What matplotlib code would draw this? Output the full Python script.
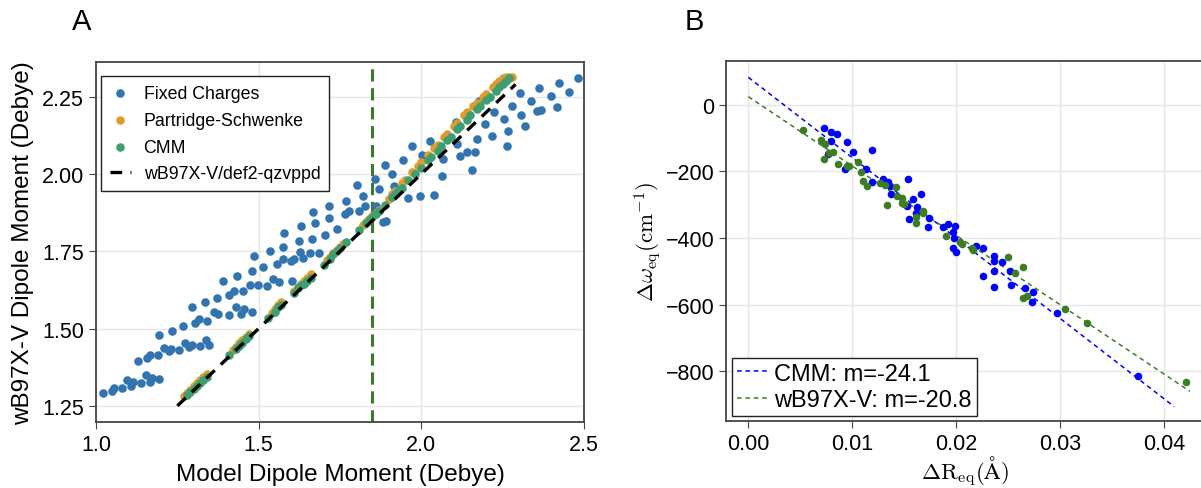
import numpy as np
import matplotlib.pyplot as plt

plt.rcParams['font.family'] = ['Liberation Sans', 'DejaVu Sans']
plt.rcParams['mathtext.fontset'] = 'cm'

# ---- panel A data ----
fixed_x = [1.022, 1.049, 1.055, 1.080, 1.095, 1.108, 1.114, 1.138, 1.153, 1.166, 1.172, 1.194,
           1.129, 1.157, 1.166, 1.191, 1.194, 1.209, 1.224, 1.231, 1.234, 1.255, 1.267, 1.274,
           1.286, 1.295, 1.295, 1.304, 1.320, 1.335, 1.338, 1.347, 1.317, 1.341, 1.363, 1.372,
           1.375, 1.390, 1.409, 1.409, 1.424, 1.433, 1.430, 1.452, 1.455, 1.446, 1.480, 1.473,
           1.480, 1.486, 1.498, 1.513, 1.526, 1.535, 1.544, 1.556, 1.563, 1.575, 1.578, 1.575,
           1.599, 1.603, 1.609, 1.624, 1.630, 1.627, 1.636, 1.658, 1.664, 1.667, 1.673, 1.686,
           1.704, 1.716, 1.716, 1.741, 1.765, 1.769, 1.778, 1.808, 1.827, 1.861, 1.882, 1.891,
           1.888, 1.858, 1.802, 1.821, 1.870,
           2.482, 2.423, 2.454, 2.399, 2.362, 2.417, 2.368, 2.337, 2.303, 2.356, 2.319, 2.306,
           2.279, 2.267, 2.254, 2.263, 2.224, 2.217, 2.196, 2.177, 2.171, 2.165, 2.156, 2.140,
           2.119, 2.110, 2.107, 2.064, 2.067, 2.039, 2.027, 1.996, 2.002, 1.971, 1.959, 1.944,
           1.916, 1.910]
fixed_y = [1.292, 1.298, 1.308, 1.308, 1.334, 1.315, 1.328, 1.324, 1.350, 1.328, 1.341, 1.337,
           1.395, 1.405, 1.415, 1.415, 1.480, 1.438, 1.428, 1.434, 1.492, 1.431, 1.509, 1.454,
           1.441, 1.447, 1.570, 1.518, 1.444, 1.586, 1.463, 1.447, 1.531, 1.525, 1.554, 1.599,
           1.547, 1.654, 1.609, 1.544, 1.622, 1.670, 1.570, 1.622, 1.564, 1.547, 1.554, 1.641,
           1.686, 1.735, 1.641, 1.699, 1.638, 1.751, 1.661, 1.709, 1.651, 1.764, 1.809, 1.725,
           1.719, 1.654, 1.725, 1.783, 1.832, 1.748, 1.729, 1.745, 1.790, 1.877, 1.842, 1.745,
           1.803, 1.858, 1.897, 1.822, 1.871, 1.913, 1.880, 1.880, 1.897, 1.897, 1.845, 1.848,
           2.029, 1.984, 1.965, 1.929, 1.952,
           2.310, 2.294, 2.265, 2.252, 2.278, 2.217, 2.207, 2.236, 2.262, 2.204, 2.155, 2.191,
           2.220, 2.139, 2.178, 2.091, 2.201, 2.123, 2.162, 2.236, 2.113, 2.071, 2.013, 2.071,
           2.058, 2.097, 2.168, 1.994, 2.049, 1.932, 2.107, 1.929, 2.061, 2.091, 1.922, 2.045,
           1.961, 2.000]

ps_x = [1.27, 1.28, 1.29, 1.30, 1.31, 1.32, 1.33, 1.34, 1.42, 1.43, 1.44, 1.45, 1.46, 1.47,
        1.54, 1.55, 1.56, 1.57, 1.61, 1.62, 1.63, 1.64, 1.65, 1.66, 1.71, 1.72, 1.73, 1.74,
        1.75, 1.76, 1.82, 1.83, 1.84, 1.85, 1.86, 1.87, 1.90, 1.91, 1.92, 1.94, 1.95, 1.97,
        1.99, 2.00, 2.02, 2.04, 2.05, 2.07, 2.08, 2.10, 2.11, 2.13, 2.14, 2.16, 2.17, 2.19,
        2.20, 2.22, 2.23, 2.24, 2.25, 2.26, 2.27, 2.28]
ps_y = [1.283, 1.293, 1.303, 1.313, 1.323, 1.333, 1.343, 1.352, 1.432, 1.442, 1.452, 1.462,
        1.472, 1.482, 1.552, 1.562, 1.575, 1.585, 1.622, 1.635, 1.645, 1.655, 1.665, 1.675,
        1.722, 1.732, 1.745, 1.755, 1.765, 1.775, 1.835, 1.845, 1.855, 1.865, 1.875, 1.885,
        1.920, 1.935, 1.945, 1.970, 1.980, 2.005, 2.025, 2.040, 2.060, 2.085, 2.095, 2.120,
        2.130, 2.155, 2.165, 2.190, 2.200, 2.220, 2.230, 2.250, 2.260, 2.280, 2.290, 2.300,
        2.310, 2.315, 2.315, 2.315]

cmm_x = [1.28, 1.29, 1.30, 1.31, 1.32, 1.33, 1.34, 1.41, 1.43, 1.44, 1.45, 1.46, 1.47,
         1.53, 1.55, 1.56, 1.57, 1.61, 1.62, 1.63, 1.64, 1.65, 1.66, 1.70, 1.72, 1.73, 1.74,
         1.75, 1.77, 1.81, 1.83, 1.84, 1.85, 1.86, 1.87, 1.89, 1.91, 1.92, 1.93, 1.94, 1.96,
         1.98, 2.00, 2.02, 2.03, 2.05, 2.06, 2.08, 2.09, 2.11, 2.12, 2.14, 2.15, 2.17, 2.18,
         2.20, 2.21, 2.23, 2.24, 2.25, 2.26, 2.27]
cmm_y = [1.285, 1.295, 1.305, 1.315, 1.325, 1.335, 1.345, 1.415, 1.435, 1.445, 1.455, 1.465,
         1.475, 1.535, 1.555, 1.570, 1.575, 1.615, 1.630, 1.640, 1.645, 1.655, 1.665, 1.705,
         1.725, 1.740, 1.750, 1.760, 1.780, 1.820, 1.840, 1.850, 1.860, 1.870, 1.880, 1.900,
         1.925, 1.935, 1.945, 1.955, 1.980, 2.000, 2.020, 2.045, 2.055, 2.075, 2.090, 2.110,
         2.120, 2.145, 2.155, 2.175, 2.190, 2.210, 2.220, 2.240, 2.250, 2.270, 2.280, 2.290,
         2.300, 2.310]

ref_line = [1.25, 2.29]
cutoff = 1.85

# ---- panel B data ----
cmm_dr = [0.00731, 0.00796, 0.00857, 0.00793, 0.00947, 0.01005, 0.01188, 0.00770, 0.00931,
          0.01133, 0.01188, 0.01294, 0.01347, 0.01364, 0.01370, 0.01540, 0.01582, 0.01659,
          0.01530, 0.01621, 0.01614, 0.01544, 0.01742, 0.01732, 0.01871, 0.01925, 0.01989,
          0.01973, 0.01980, 0.01973, 0.01999, 0.02192, 0.02262, 0.02365, 0.02365, 0.02439,
          0.02365, 0.02262, 0.02519, 0.02526, 0.02365, 0.02663, 0.02737, 0.02728, 0.02968,
          0.03750]
cmm_dw = [-70, -81, -88, -109, -111, -141, -136, -148, -193, -193, -231, -223, -233, -245,
          -268, -223, -283, -268, -303, -306, -325, -343, -341, -366, -368, -358, -365, -383,
          -401, -431, -443, -423, -431, -453, -468, -473, -498, -513, -498, -541, -548, -551,
          -563, -593, -625, -815]
wb_dr = [0.00529, 0.00697, 0.00738, 0.00729, 0.00780, 0.00818, 0.00866, 0.00947, 0.00972,
         0.01053, 0.01082, 0.01107, 0.01145, 0.01268, 0.01316, 0.01338, 0.01419, 0.01434,
         0.01476, 0.01476, 0.01499, 0.01614, 0.01614, 0.01684, 0.01684, 0.01903, 0.02038,
         0.02054, 0.02150, 0.02166, 0.02502, 0.02567, 0.02647, 0.02641, 0.02680, 0.03048,
         0.03257, 0.04213]
wb_dw = [-76, -106, -118, -163, -145, -143, -178, -185, -185, -173, -201, -228, -243, -235,
         -241, -301, -248, -273, -281, -295, -298, -338, -355, -318, -325, -393, -413, -418,
         -431, -435, -458, -505, -488, -581, -575, -613, -655, -833]

cmm_fit = [0.0, 0.041]
cmm_intercept, cmm_slope = 82, -24.1
wb_fit = [0.0, 0.0425]
wb_intercept, wb_slope = 24, -20.8

c_fixed = '#3274b0'
c_ps = '#e09b2d'
c_cmm = '#3f9d72'
c_blue = '#0000ff'
c_green = '#3c7d23'

fig = plt.figure(figsize=(12.01, 4.89), dpi=100)

# ================= A =================
ax = fig.add_axes([0.0799, 0.135, 0.4063, 0.736])
ax.set_axisbelow(True)
ax.grid(True, color='#e6e6e6', lw=1)
ax.scatter(fixed_x, fixed_y, s=38, color=c_fixed, lw=0, label='Fixed Charges', zorder=2)
ax.scatter(ps_x, ps_y, s=38, color=c_ps, lw=0, label='Partridge-Schwenke', zorder=3)
ax.scatter(cmm_x, cmm_y, s=38, color=c_cmm, lw=0, label='CMM', zorder=4)
ax.plot(ref_line, ref_line, color='black', ls=(0, (3.5, 2.5)), lw=2.4,
        label='wB97X-V/def2-qzvppd', zorder=5)
ax.axvline(cutoff, color='#3a7a28', ls=(0, (4, 2.2)), lw=2.2, zorder=1)
ax.set_xlim(1.0, 2.5)
ax.set_ylim(1.198, 2.362)
ax.set_xticks([1.0, 1.5, 2.0, 2.5])
ax.set_yticks([1.25, 1.5, 1.75, 2.0, 2.25])
ax.set_yticklabels(['1.25', '1.50', '1.75', '2.00', '2.25'])
ax.tick_params(labelsize=15.5, direction='out', length=5, color='#444444')
for sp in ax.spines.values():
    sp.set_color('#444444')
    sp.set_linewidth(1.3)
ax.set_xlabel('Model Dipole Moment (Debye)', fontsize=17.5, labelpad=6)
ax.set_ylabel('wB97X-V Dipole Moment (Debye)', fontsize=17.5, labelpad=6)
leg = ax.legend(loc='upper left', bbox_to_anchor=(0.0102, 0.961), borderaxespad=0,
                fontsize=12.8, fancybox=False, framealpha=1, edgecolor='#222222',
                handlelength=1.2, handletextpad=0.7, labelspacing=0.55, borderpad=0.5)
leg.get_frame().set_linewidth(1.0)
fig.text(0.068, 0.955, 'A', fontsize=21, ha='center', va='center')

# ================= B =================
bx = fig.add_axes([0.6045, 0.1364, 0.3985, 0.7368])
bx.set_axisbelow(True)
bx.grid(True, color='#e6e6e6', lw=1)
xx = np.array(cmm_fit)
bx.plot(xx, cmm_intercept + cmm_slope * 1000 * xx, color=c_blue, ls=(0, (3, 2.5)), lw=1.1,
        label=f'CMM: m={cmm_slope}')
xx = np.array(wb_fit)
bx.plot(xx, wb_intercept + wb_slope * 1000 * xx, color=c_green, ls=(0, (3, 2.5)), lw=1.1,
        label=f'wB97X-V: m={wb_slope}')
bx.scatter(cmm_dr, cmm_dw, s=30, color=c_blue, lw=0, zorder=3)
bx.scatter(wb_dr, wb_dw, s=30, color=c_green, lw=0, zorder=3)
bx.set_xlim(-0.00215, 0.04392)
bx.set_ylim(-950, 131)
bx.set_xticks([0.0, 0.01, 0.02, 0.03, 0.04])
bx.set_xticklabels(['0.00', '0.01', '0.02', '0.03', '0.04'])
bx.set_yticks([0, -200, -400, -600, -800])
bx.tick_params(labelsize=15.5, direction='out', length=5, color='#444444')
for sp in bx.spines.values():
    sp.set_color('#444444')
    sp.set_linewidth(1.3)
bx.set_xlabel(r'$\Delta\mathrm{R}_{\mathrm{eq}}(\mathrm{\AA})$', fontsize=16.5, labelpad=0)
bx.set_ylabel(r'$\Delta\omega_{\mathrm{eq}}(\mathrm{cm}^{-1})$', fontsize=16.5, labelpad=1)
leg = bx.legend(loc='lower left', bbox_to_anchor=(0.0125, 0.0147), borderaxespad=0,
                fontsize=17, fancybox=False, framealpha=1, edgecolor='#222222',
                handlelength=1.3, handletextpad=0.3, labelspacing=0.2, borderpad=0.2)
leg.get_frame().set_linewidth(1.0)
fig.text(0.578, 0.955, 'B', fontsize=21, ha='center', va='center')

fig.savefig('out.png', dpi=100)
